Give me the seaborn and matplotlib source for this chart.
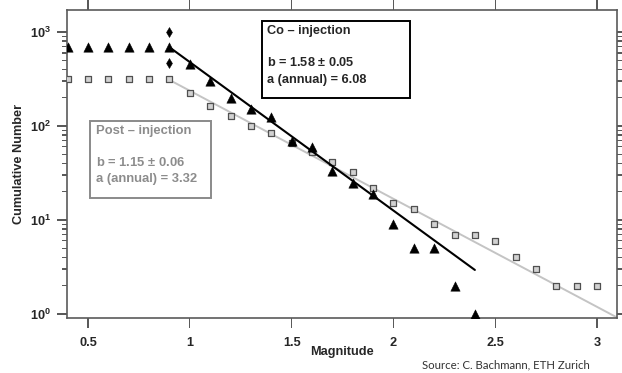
import numpy as np
import pandas as pd
import matplotlib
matplotlib.use("Agg")
import matplotlib.pyplot as plt
from matplotlib.patches import Rectangle
from matplotlib.ticker import FixedLocator, LogLocator, NullFormatter
import seaborn as sns

# ---- data -------------------------------------------------------------
magnitude = [0.4, 0.5, 0.6, 0.7, 0.8, 0.9, 1.0, 1.1, 1.2, 1.3, 1.4, 1.5, 1.6,
             1.7, 1.8, 1.9, 2.0, 2.1, 2.2, 2.3, 2.4, 2.5, 2.6, 2.7, 2.8, 2.9, 3.0]

co_mag = magnitude[:21]
co_count = [700, 700, 700, 700, 700, 700, 460, 300, 200, 150, 125, 70, 60,
            33, 25, 19, 9, 5, 5, 2, 1]

post_mag = magnitude
post_count = [315, 315, 315, 315, 315, 315, 225, 165, 128, 100, 84, 66, 53,
              41, 32, 22, 15, 13, 9, 7, 7, 6, 4, 3, 2, 2, 2]

# single events flagged at the completeness magnitude
flag_mag = [0.9, 0.9]
flag_count = [1000, 470]

# Gutenberg-Richter fits: log10 N = intercept - b * M
co_b, co_b_err, co_a_annual = 1.58, 0.05, 6.08
post_b, post_b_err, post_a_annual = 1.15, 0.06, 3.32
co_intercept, post_intercept = 4.26, 3.525
co_fit_range = [0.9, 2.4]
post_fit_range = [0.9, 3.1]

x_ticks = [0.5, 1, 1.5, 2, 2.5, 3]
x_tick_labels = ["0.5", "1", "1.5", "2", "2.5", "3"]
y_ticks = [1, 10, 100, 1000]
y_tick_labels = [r"$\mathbf{10^{0}}$", r"$\mathbf{10^{1}}$",
                 r"$\mathbf{10^{2}}$", r"$\mathbf{10^{3}}$"]

# ---- style ------------------------------------------------------------
sns.set_style("ticks")
plt.rcParams["font.family"] = ["Liberation Sans", "DejaVu Sans"]
plt.rcParams["font.weight"] = "bold"
plt.rcParams["mathtext.fontset"] = "custom"
plt.rcParams["mathtext.rm"] = "Liberation Sans"
plt.rcParams["mathtext.bf"] = "Liberation Sans:bold"

spine_col = "#5a5a5a"
gray_txt = "#8c8c8c"

fig = plt.figure(figsize=(6.22, 3.73), dpi=100)
ax_w_px, ax_h_px = 550, 308
ax = fig.add_axes([67 / 622, 1 - 318 / 373, ax_w_px / 622, ax_h_px / 373])

# fit lines
co_fit = pd.DataFrame({"M": co_fit_range})
co_fit["N"] = 10 ** (co_intercept - co_b * co_fit["M"])
post_fit = pd.DataFrame({"M": post_fit_range})
post_fit["N"] = 10 ** (post_intercept - post_b * post_fit["M"])

sns.lineplot(data=post_fit, x="M", y="N", ax=ax, color="#c4c4c4", lw=1.4,
             zorder=2)
sns.lineplot(data=co_fit, x="M", y="N", ax=ax, color="black", lw=1.5,
             zorder=4)

# observed cumulative counts
post_df = pd.DataFrame({"M": post_mag, "N": post_count})
co_df = pd.DataFrame({"M": co_mag, "N": co_count})
flag_df = pd.DataFrame({"M": flag_mag, "N": flag_count})

sns.scatterplot(data=post_df, x="M", y="N", ax=ax, marker="s", s=20,
                color="#d2d2d2", edgecolor="#505050", linewidth=0.9, zorder=3)
sns.scatterplot(data=co_df, x="M", y="N", ax=ax, marker="^", s=46,
                color="black", edgecolor="black", linewidth=0.3, zorder=5)
sns.scatterplot(data=flag_df, x="M", y="N", ax=ax, marker="d", s=26,
                color="black", edgecolor="black", linewidth=0.3, zorder=5)

# ---- axes -------------------------------------------------------------
ax.set_yscale("log")
ax.set_xlim(0.397, 3.098)
ax.set_ylim(0.905, 1715)

ax.set_xticks(x_ticks, labels=x_tick_labels)
ax.yaxis.set_major_locator(FixedLocator(y_ticks))
ax.set_yticklabels(y_tick_labels)
ax.yaxis.set_minor_locator(LogLocator(base=10, subs=np.arange(2, 10)))
ax.yaxis.set_minor_formatter(NullFormatter())

for s in ax.spines.values():
    s.set_visible(True)
    s.set_color(spine_col)
    s.set_linewidth(1.2)

# tick marks are drawn as thin filled strips below; keep only the labels
ax.tick_params(axis="x", which="both", length=0, labelsize=9.2, pad=13.5)
ax.tick_params(axis="y", which="both", length=0, labelsize=9.2, pad=11.5)

xt = ax.get_xaxis_transform()
yt = ax.get_yaxis_transform()
x0, x1 = ax.get_xlim()
px_x = (x1 - x0) / ax_w_px          # one pixel in data units along x
strip_kw = dict(facecolor=spine_col, edgecolor="none", clip_on=False,
                zorder=1)
tick_len_x = 10 / ax_h_px
for xv in x_ticks:
    ax.add_patch(Rectangle((xv - 0.65 * px_x, -tick_len_x), 1.3 * px_x,
                           tick_len_x, transform=xt, **strip_kw))
    ax.add_patch(Rectangle((xv - 0.65 * px_x, 1.0), 1.3 * px_x,
                           tick_len_x, transform=xt, **strip_kw))


def y_strip(yv, x_start, length_px):
    """Horizontal tick strip at data value yv, 1.3 px thick."""
    lo = np.log10(yv)
    ymin, ymax = np.log10(ax.get_ylim())
    dec = (ymax - ymin) / ax_h_px * 0.65
    ax.add_patch(Rectangle((x_start, 10 ** (lo - dec)), length_px / ax_w_px,
                           10 ** (lo + dec) - 10 ** (lo - dec),
                           transform=yt, **strip_kw))


ymin, ymax = ax.get_ylim()
minor_y = [v for v in ax.yaxis.get_minorticklocs() if ymin <= v <= ymax]
for yv in y_ticks:
    y_strip(yv, -10 / ax_w_px, 10)
    y_strip(yv, 1.0, 5)
for yv in minor_y:
    y_strip(yv, -5 / ax_w_px, 5)
    y_strip(yv, 1.0, 5)

ax.set_xlabel("Magnitude", fontsize=9.2, fontweight="bold")
ax.set_ylabel("Cumulative Number", fontsize=9.2, fontweight="bold")
ax.xaxis.set_label_coords(0.5, (318 - 346) / ax_h_px)
ax.yaxis.set_label_coords((25 - 67) / ax_w_px, 0.5)

# ---- annotation boxes ---------------------------------------------------
ax.add_patch(Rectangle((0.3545, 0.714), 0.2691, 0.250,
                       transform=ax.transAxes, fill=True, facecolor="white",
                       edgecolor="black", lw=1.4, zorder=6))
tx = 0.3636
ax.text(tx, (318 - 31) / 308, "Co \u2013 injection", transform=ax.transAxes,
        fontsize=9.2, fontweight="bold", va="center", ha="left", zorder=7)
ax.text(tx, (318 - 62) / 308, f"b = {co_b:.2f} $\\pm$ {co_b_err:.2f}",
        transform=ax.transAxes, fontsize=9.2, fontweight="bold",
        va="center", ha="left", zorder=7)
ax.text(tx, (318 - 80) / 308, f"a (annual) = {co_a_annual:.2f}",
        transform=ax.transAxes, fontsize=9.2, fontweight="bold",
        va="center", ha="left", zorder=7)

ax.add_patch(Rectangle((0.0418, 0.3896), 0.2200, 0.2500,
                       transform=ax.transAxes, fill=True, facecolor="white",
                       edgecolor="#8a8a8a", lw=1.4, zorder=6))
px = 0.0522
ax.text(px, (318 - 131) / 308, "Post \u2013 injection", transform=ax.transAxes,
        fontsize=9.4, fontweight="bold", color=gray_txt, va="center",
        ha="left", zorder=7)
ax.text(px, (318 - 162) / 308, f"b = {post_b:.2f} $\\pm$ {post_b_err:.2f}",
        transform=ax.transAxes, fontsize=9.4, fontweight="bold",
        color=gray_txt, va="center", ha="left", zorder=7)
ax.text(px, (318 - 179) / 308, f"a (annual) = {post_a_annual:.2f}",
        transform=ax.transAxes, fontsize=9.4, fontweight="bold",
        color=gray_txt, va="center", ha="left", zorder=7)

# ---- credit line ----------------------------------------------------------
fig.text(590 / 622, 1 - 365 / 373, "Source: C. Bachmann, ETH Zurich",
         fontsize=8.2, fontweight="normal", family=["Lato", "DejaVu Sans"],
         color="#333333", ha="right", va="center")

fig.savefig("out.png", dpi=100)
